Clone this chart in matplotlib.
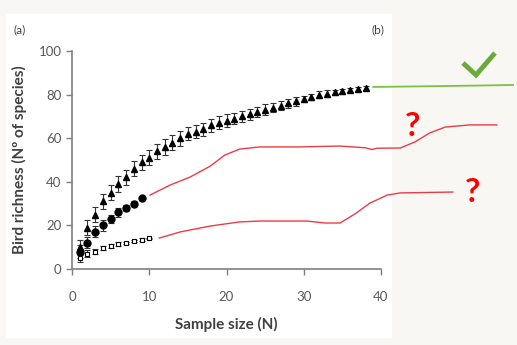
import numpy as np
import matplotlib.pyplot as plt
from matplotlib.patches import Rectangle

plt.rcParams['font.family'] = ['Lato', 'DejaVu Sans']

# sampling curves (panel a)
n_tri = np.arange(1, 39)
tri = [10, 19, 25, 31, 35, 39, 42, 46, 49, 51, 54, 56, 58, 60, 62, 63, 64, 66, 67,
       68, 69, 70, 71, 72, 73, 74, 75, 76, 77, 78, 79, 80, 80.5, 81, 81.5, 82, 82.5, 83]
tri_err = [3.5, 3.5, 3.5, 3.5, 3.5, 3.5, 3.5, 3.5, 3.5, 3.5, 3.5, 3.5, 3.5, 3.5, 3.0,
           3.0, 3.0, 3.0, 3.0, 3.0, 2.5, 2.5, 2.5, 2.5, 2.5, 2.0, 2.0, 2.0, 2.0, 1.5,
           1.5, 1.5, 1.5, 1.0, 1.0, 1.0, 1.0, 0.8]
n_circ = np.arange(1, 10)
circ = [8, 12, 17, 20, 23, 26, 28, 30, 32.5]
circ_err = [3, 2.5, 2.5, 2.5, 2, 2, 1.5, 1, 0.8]
n_sq = np.arange(1, 11)
sq = [5, 7, 8, 9.5, 10.5, 11.5, 12, 13, 13.5, 14]
sq_err = [2, 1.5, 1.2, 1, 1, 0.8, 0.6, 0.5, 0.5, 0.4]

# hand-drawn extrapolation sketches (data coords)
red1_x = [10.1, 12.7, 15.3, 17.9, 19.8, 21.7, 24.3, 29.5, 34.7, 38.0, 38.8, 39.5, 42.5, 44.4, 46.3, 48.3, 51.5, 55.0]
red1_y = [33.9, 38.5, 42.2, 47.2, 52.3, 55.0, 56.0, 56.0, 56.4, 55.6, 54.8, 55.4, 55.5, 58.3, 62.4, 65.1, 66.1, 66.1]
red2_x = [11.3, 14.0, 17.9, 21.7, 24.3, 30.4, 32.8, 34.7, 36.6, 38.6, 40.8, 42.5, 49.3]
red2_y = [14.2, 17.0, 19.7, 21.6, 22.0, 22.0, 21.1, 21.1, 25.2, 30.3, 33.9, 34.9, 35.3]
green_x = [39.0, 47.6, 57.1]
green_y = [83.5, 83.9, 84.4]

W, H = 517, 345
fig = plt.figure(figsize=(W / 100, H / 100), dpi=100)
fig.patch.set_facecolor('#f8f7f4')
fig.add_artist(Rectangle((6 / W, 1 - 338 / H), (392 - 6) / W, (338 - 14) / H,
                         transform=fig.transFigure, facecolor='white',
                         edgecolor='none', zorder=-5))

ax = fig.add_axes([72 / W, 1 - 269 / H, 309 / W, 218 / H])
ax.set_zorder(2)
ax.set_facecolor('none')
grey = '#595959'

ax.errorbar(n_tri, tri, yerr=tri_err, fmt='^', color='black', ms=4.5,
            ecolor='#333333', elinewidth=0.8, capsize=2.5, capthick=0.8, zorder=3)
ax.errorbar(n_circ, circ, yerr=circ_err, fmt='o', color='black', ms=5,
            ecolor='#333333', elinewidth=0.8, capsize=2.5, capthick=0.8, zorder=3)
ax.errorbar(n_sq, sq, yerr=sq_err, fmt='s', mfc='white', mec='black', ms=3.5,
            mew=0.8, ecolor='#333333', elinewidth=0.8, capsize=2, capthick=0.8, zorder=3)

ax.plot(red1_x, red1_y, color='#ec3b46', lw=1.0, clip_on=False)
ax.plot(red2_x, red2_y, color='#ec3b46', lw=1.0, clip_on=False)
ax.plot(green_x, green_y, color='#7cc242', lw=1.3, clip_on=False)

ax.set_xlim(0, 40)
ax.set_ylim(0, 100)
ax.set_xticks([0, 10, 20, 30, 40])
ax.set_yticks([0, 20, 40, 60, 80, 100])
for s in ['top', 'right']:
    ax.spines[s].set_visible(False)
for s in ['left', 'bottom']:
    ax.spines[s].set_color('#7f7f7f')
    ax.spines[s].set_linewidth(1.2)
ax.tick_params(colors='#7f7f7f', labelcolor=grey, labelsize=9.5, length=4, width=1)
ax.tick_params(axis='x', pad=12)
ax.set_xlabel('Sample size (N)', fontsize=11, fontweight='bold', color='#404040', labelpad=10)
ax.set_ylabel('Bird richness (Nº of species)', fontsize=11, fontweight='bold',
              color='#404040', labelpad=8)

fig.text(14 / W, 1 - 30 / H, '(a)', fontsize=8.5, color='#404040', va='center')
fig.text(371 / W, 1 - 30 / H, '(b)', fontsize=8.5, color='#404040', va='center')

# check mark and question marks
fig.add_artist(plt.Line2D([463 / W, 476 / W, 495 / W],
                          [1 - 63 / H, 1 - 75 / H, 1 - 53 / H],
                          transform=fig.transFigure, color='#6aaa3a', lw=3.5,
                          solid_capstyle='butt', solid_joinstyle='miter'))
fig.text(412 / W, 1 - 126 / H, '?', fontsize=24, fontweight='bold', color='#ff0000',
         ha='center', va='center')
fig.text(472 / W, 1 - 192 / H, '?', fontsize=24, fontweight='bold', color='#ff0000',
         ha='center', va='center')

fig.savefig('out.png', dpi=100, facecolor=fig.get_facecolor())
